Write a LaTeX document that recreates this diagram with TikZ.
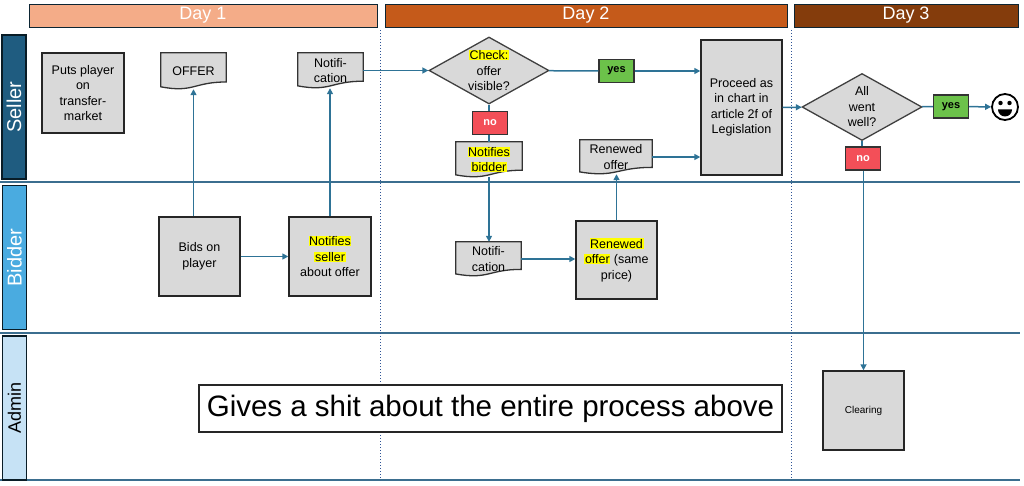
\documentclass[tikz,border=0pt]{standalone}
\usepackage{fontspec}
\setmainfont{Liberation Sans}
\usetikzlibrary{shapes.geometric,arrows.meta,calc,backgrounds}
\definecolor{dayone}{HTML}{F4AC88}
\definecolor{daytwo}{HTML}{C55A1A}
\definecolor{daythree}{HTML}{843C0C}
\definecolor{sellerc}{HTML}{1F5C80}
\definecolor{bidderc}{HTML}{4AABE0}
\definecolor{adminc}{HTML}{C6E2F5}
\definecolor{boxgray}{HTML}{D9D9D9}
\definecolor{flowc}{HTML}{2E7396}
\definecolor{lanec}{HTML}{3B6E8F}
\definecolor{dotc}{HTML}{2F5597}
\definecolor{yesc}{HTML}{6CC24A}
\definecolor{noc}{HTML}{F34F58}
\definecolor{hlc}{HTML}{FFFF00}
\newcommand{\hlt}[1]{{\setlength{\fboxsep}{0.6pt}\colorbox{hlc}{#1}}}
\begin{document}
\begin{tikzpicture}[x=1pt,y=-1pt,font=\fontsize{12.5}{15.5}\selectfont]
  \tikzstyle{proc}=[draw=black!85, line width=1.4pt, fill=boxgray, align=center, inner sep=2pt]
  \tikzstyle{docu}=[align=center, inner sep=2pt]
  \tikzstyle{decision}=[diamond, draw=black!75, line width=1.3pt, fill=boxgray, minimum width=120pt, minimum height=67pt, inner sep=0pt]
  \tikzstyle{yesbox}=[draw=black!80, line width=1.1pt, fill=yesc, minimum width=35pt, minimum height=23pt, font=\fontsize{11}{13}\selectfont\bfseries]
  \tikzstyle{nobox}=[yesbox, fill=noc, text=white]
  \tikzstyle{flow}=[draw=flowc, line width=1.5pt, -{Triangle[length=6pt,width=6pt]}]
  \tikzstyle{link}=[draw=flowc, line width=1.5pt]
  \tikzstyle{lanelab}=[draw=black!70!sellerc, line width=1.2pt, minimum width=144pt, minimum height=24pt, rotate=90, font=\fontsize{20}{22}\selectfont]
  \tikzstyle{dayhead}=[draw=black!60!sellerc, line width=0.8pt, minimum height=23pt, text=white, font=\fontsize{18}{20}\selectfont]
  \useasboundingbox (0,0) rectangle (1024,486);
  % lanes and day borders
  \foreach \ly in {182,333,480} \draw[lanec, line width=1.4pt] (0,\ly) -- (1020,\ly);
  \foreach \lx in {380,791} \draw[dotc, dotted, line width=1pt] (\lx,30) -- (\lx,480);
  \node[dayhead, fill=dayone, minimum width=348pt] (dayA) at (203,15.5) {Day 1};
  \node[dayhead, fill=daytwo, minimum width=402pt] (dayB) at (586,15.5) {Day 2};
  \node[dayhead, fill=daythree, minimum width=224pt] (dayC) at (906,15.5) {Day 3};
  \node[lanelab, fill=sellerc, text=white] (seller) at (14,107) {Seller};
  \node[lanelab, fill=bidderc, text=white] (bidder) at (14.5,257.5) {Bidder};
  \node[lanelab, fill=adminc, text=black, font=\fontsize{18}{20}\selectfont] (admin) at (14.5,408) {Admin};
  % seller
  \node[proc, minimum width=82pt, minimum height=80pt] (put) at (83,93) {Puts player\\on\\transfer-\\market};
  \node[docu, minimum width=65pt, minimum height=36pt] (offer) at (193.5,71) {OFFER};
  \node[docu, minimum width=65pt, minimum height=35pt] (notifa) at (330.5,70.5) {Notifi-\\cation};
  \node[decision] (check) at (489,70.5) {};
  \node[align=center] (checktxt) at (check) {\hlt{Check:}\\offer\\visible?};
  \node[nobox] (noa) at (490,123) {no};
  \node[docu, minimum width=66pt, minimum height=35pt] (notbid) at (489,159.5) {\hlt{Notifies}\\\hlt{bidder}};
  \node[yesbox] (yesa) at (616.5,71) {yes};
  \node[proc, minimum width=81pt, minimum height=135pt] (proceed) at (741.5,107.5) {Proceed as\\in chart in\\article 2f of\\Legislation};
  \node[docu, minimum width=72pt, minimum height=34pt] (renoff) at (616,157) {Renewed\\offer};
  \node[decision] (went) at (862,107) {};
  \node[align=center] (wenttxt) at (went) {All\\went\\well?};
  \node[yesbox] (yesb) at (951,106.5) {yes};
  \node[circle, draw, line width=1.8pt, fill=white, minimum size=26pt, inner sep=0pt] (smile) at (1005,107) {};
  \fill (smile.center) ++(-4.5,-4) circle (2.2pt);
  \fill (smile.center) ++(4.5,-4) circle (2.2pt);
  \fill ($(smile.center)+(-7,2.5)$) arc[start angle=180, end angle=360, radius=7pt] -- cycle;
  \node[nobox] (nob) at (863,158.5) {no};
  % bidder
  \node[proc, minimum width=81pt, minimum height=79pt] (bids) at (199.5,256.5) {Bids on\\player};
  \node[proc, minimum width=82pt, minimum height=79pt] (notsel) at (330,256.5) {\hlt{Notifies}\\\hlt{seller}\\about offer};
  \node[docu, minimum width=65pt, minimum height=34pt] (notifb) at (488.5,259) {Notifi-\\cation};
  \node[proc, minimum width=81pt, minimum height=78pt] (renbox) at (616.5,260) {\hlt{Renewed}\\\hlt{offer} (same\\price)};
  % admin
  \node[draw=black!85, line width=1.3pt, fill=white, minimum width=583pt, minimum height=47pt, font=\fontsize{29.5}{32}\selectfont] (gives) at (490.5,408.5) {Gives a shit about the entire process above};
  \node[proc, minimum width=81pt, minimum height=79pt, font=\fontsize{10}{12}\selectfont] (clear) at (863.5,410.5) {Clearing};
  % document outlines
  \begin{scope}[on background layer]
    \foreach \d in {offer,notifa,notbid,renoff,notifb}
      \draw[draw=black!80, line width=1.3pt, fill=boxgray] let \p1=(\d.north west), \p2=(\d.south east) in
        (\p1) -- (\x2,\y1) -- (\x2,{\y1+0.802*(\y2-\y1)})
        .. controls ({0.5*(\x1+\x2)},{\y1+0.802*(\y2-\y1)}) and ({0.5*(\x1+\x2)},{\y1+1.108*(\y2-\y1)}) ..
        (\x1,{\y1+0.934*(\y2-\y1)}) -- cycle;
  \end{scope}
  % flow
  \draw[flow] (offer.south |- bids.north) -- (offer.south);
  \draw[flow] (bids) -- (notsel);
  \draw[flow] (notsel.north) -- (notsel.north |- notifa.south);
  \draw[flow] (notifa) -- (check);
  \draw[link] (check) -- (yesa);
  \draw[flow] (yesa) -- (yesa -| proceed.west);
  \draw[link] (check.south) -- (check.south |- noa.north);
  \draw[link] (noa.south -| notbid.north) -- (notbid.north);
  \draw[flow] (notbid.south) -- (notbid.south |- notifb.north);
  \draw[flow] (notifb.east) -- (notifb.east -| renbox.west);
  \draw[flow] (renbox.north) -- (renbox.north |- renoff.south);
  \draw[flow] (renoff) -- (renoff -| proceed.west);
  \draw[flow] (proceed) -- (went);
  \draw[link] (went) -- (yesb);
  \draw[flow] (yesb) -- (smile);
  \draw[link] (went.south) -- (went.south |- nob.north);
  \draw[flow] (nob.south -| clear.north) -- (clear.north);
\end{tikzpicture}
\end{document}
